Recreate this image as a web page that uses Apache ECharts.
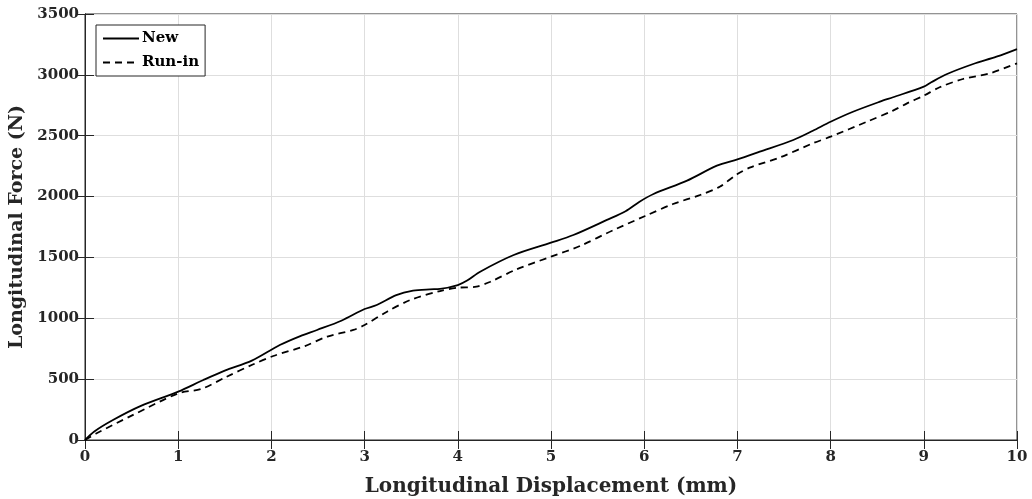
<!DOCTYPE html>
<html>
<head>
<meta charset="utf-8">
<script src="https://cdn.jsdelivr.net/npm/echarts@6/dist/echarts.min.js"></script>
<style>
  html, body { margin: 0; padding: 0; background: #fff; }
  #chart { width: 1032px; height: 499px; }
</style>
</head>
<body>
<div id="chart"></div>
<script>
// New specimen
var newX = [0, 0.1, 0.3, 0.6, 1.0, 1.27, 1.5, 1.79, 2.09, 2.31, 2.49, 2.75, 3.0, 3.13, 3.34, 3.52, 3.7, 3.81, 4.0, 4.1, 4.24, 4.6, 5.0, 5.24, 5.6, 5.8, 5.95, 6.1, 6.46, 6.78, 7.0, 7.24, 7.6, 7.81, 8.0, 8.24, 8.53, 8.67, 9.0, 9.08, 9.25, 9.53, 9.78, 10];
var newY = [0, 70, 164, 280, 397, 493, 570, 652, 780, 854, 904, 980, 1076, 1109, 1191, 1227, 1238, 1241, 1273, 1310, 1383, 1520, 1621, 1684, 1808, 1880, 1958, 2021, 2131, 2254, 2306, 2369, 2465, 2541, 2615, 2697, 2780, 2816, 2903, 2939, 3007, 3089, 3149, 3212];

// Run-in specimen
var runX = [0, 0.125, 0.5, 1.0, 1.25, 1.52, 1.8, 2.02, 2.36, 2.6, 2.88, 3.0, 3.24, 3.49, 3.81, 4.0, 4.2, 4.35, 4.63, 5.0, 5.31, 5.67, 6.01, 6.31, 6.6, 6.81, 7.0, 7.14, 7.46, 7.81, 8.0, 8.39, 8.67, 8.82, 9.0, 9.17, 9.42, 9.71, 10];
var runY = [0, 55, 200, 383, 420, 520, 620, 690, 772, 850, 904, 945, 1054, 1150, 1224, 1251, 1260, 1300, 1402, 1506, 1594, 1725, 1840, 1939, 2013, 2081, 2185, 2240, 2323, 2438, 2492, 2615, 2706, 2766, 2829, 2898, 2966, 3013, 3095];

var seriesNames = ['New', 'Run-in'];

function pairs(xs, ys) {
  var out = [];
  for (var i = 0; i < xs.length; i++) out.push([xs[i], ys[i]]);
  return out;
}

var font = 'DejaVu Serif';
var axisColor = '#262626';
var myChart = echarts.init(document.getElementById('chart'));

var option = {
  animation: false,
  backgroundColor: '#fff',
  textStyle: { fontFamily: font },
  grid: {
    left: 85, right: 15, top: 14, bottom: 59,
    outerBoundsMode: 'none', containLabel: false,
    show: true, borderColor: axisColor, borderWidth: 1
  },
  legend: {
    left: 96, top: 25,
    orient: 'vertical',
    data: seriesNames,
    itemWidth: 36, itemHeight: 14, itemGap: 9,
    padding: [6, 6, 6, 6],
    borderColor: axisColor, borderWidth: 1,
    backgroundColor: '#fff',
    itemStyle: { color: 'rgba(0,0,0,0)', borderWidth: 0 },
    textStyle: { fontFamily: font, fontWeight: 'bold', fontSize: 15, color: '#000', padding: [0, 0, 0, -2] }
  },
  xAxis: [{
    type: 'value', min: 0, max: 10, interval: 1,
    name: 'Longitudinal Displacement (mm)', nameLocation: 'middle', nameGap: 37,
    nameTextStyle: { fontFamily: font, fontWeight: 'bold', fontSize: 20, color: axisColor },
    axisLine: { show: true, lineStyle: { color: axisColor } },
    axisTick: { inside: true, length: 9, lineStyle: { color: axisColor } },
    axisLabel: { fontFamily: font, fontWeight: 'bold', fontSize: 15, color: axisColor, margin: 10 },
    splitLine: { show: true, lineStyle: { color: '#dedede' } }
  }, {
    type: 'value', min: 0, max: 10, interval: 1, position: 'top',
    axisLine: { show: true, lineStyle: { color: axisColor } },
    axisTick: { inside: true, length: 9, lineStyle: { color: axisColor } },
    axisLabel: { show: false }, splitLine: { show: false }
  }],
  yAxis: [{
    type: 'value', min: 0, max: 3500, interval: 500,
    name: 'Longitudinal Force (N)', nameLocation: 'middle', nameGap: 49,
    nameTextStyle: { fontFamily: font, fontWeight: 'bold', fontSize: 19, color: axisColor },
    axisLine: { show: true, lineStyle: { color: axisColor } },
    axisTick: { inside: true, length: 9, lineStyle: { color: axisColor } },
    axisLabel: {
      fontFamily: font, fontWeight: 'bold', fontSize: 15, color: axisColor, margin: 6,
      formatter: function (v) { return String(v); }
    },
    splitLine: { show: true, lineStyle: { color: '#dedede' } }
  }, {
    type: 'value', min: 0, max: 3500, interval: 500, position: 'right',
    axisLine: { show: true, lineStyle: { color: axisColor } },
    axisTick: { inside: true, length: 9, lineStyle: { color: axisColor } },
    axisLabel: { show: false }, splitLine: { show: false }
  }],
  series: [{
    name: seriesNames[0], type: 'line', symbol: 'none', smooth: 0.3,
    data: pairs(newX, newY),
    lineStyle: { color: '#000', width: 1.8, type: 'solid' },
    itemStyle: { color: '#000' }
  }, {
    name: seriesNames[1], type: 'line', symbol: 'none', smooth: 0.3,
    data: pairs(runX, runY),
    lineStyle: { color: '#000', width: 1.8, type: [7, 5] },
    itemStyle: { color: '#000' }
  }]
};
option && myChart.setOption(option);
</script>
</body>
</html>
